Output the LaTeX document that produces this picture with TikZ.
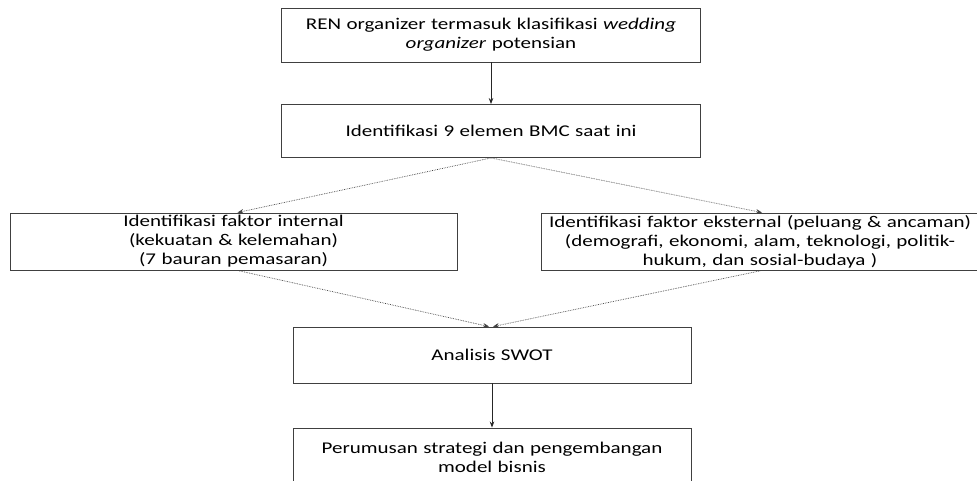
\documentclass[tikz,border=0pt]{standalone}
\usepackage{fontspec}
\setmainfont[FakeStretch=1.28]{Carlito}
\usetikzlibrary{arrows.meta, positioning}
\tikzset{
  box/.style={draw=black!75, line width=0.9pt, align=center, inner sep=0pt,
    font=\fontsize{16.4}{19}\selectfont},
  flow/.style={-{Stealth[length=6pt, width=4.5pt]}, draw=black!85, line width=0.8pt},
  dflow/.style={-{Stealth[length=6pt, width=4.5pt]}, draw=black!75, line width=0.7pt, densely dotted}
}

\begin{document}
\begin{tikzpicture}[x=1pt, y=-1pt]
  \useasboundingbox (0,0) rectangle (977,481);
  \node[box, minimum width=419pt, minimum height=54pt, text width=405pt] (ren) at (491,35)
    {REN organizer termasuk klasifikasi \textit{wedding}\\ \textit{organizer} potensian};
  \node[box, minimum width=419pt, minimum height=53pt, text width=405pt] (bmc) at (491,131)
    {Identifikasi 9 elemen BMC saat ini};
  \node[box, minimum width=447pt, minimum height=57pt, text width=440pt] (internal) at (233.5,241.5)
    {Identifikasi faktor internal\\ (kekuatan \& kelemahan)\\ (7 bauran pemasaran)};
  \node[box, minimum width=437pt, minimum height=57pt, text width=432pt] (eksternal) at (760,241.5)
    {Identifikasi faktor eksternal (peluang \& ancaman)\\ (demografi, ekonomi, alam, teknologi, politik-\\ hukum, dan sosial-budaya )};
  \node[box, minimum width=398pt, minimum height=56pt, text width=390pt] (swot) at (492,355)
    {Analisis SWOT};
  \node[box, minimum width=398pt, minimum height=58pt, text width=390pt] (strategi) at (492,457)
    {Perumusan strategi dan pengembangan\\ model bisnis};

  \draw[flow] (ren) -- (bmc);
  \draw[dflow] (bmc.south) -- ([xshift=4pt]internal.north);
  \draw[dflow] (bmc.south) -- ([xshift=2pt]eksternal.north);
  \draw[dflow] ([xshift=4pt]internal.south) -- ([xshift=-3pt]swot.north);
  \draw[dflow] ([xshift=2pt]eksternal.south) -- ([xshift=1pt]swot.north);
  \draw[flow] (swot) -- (strategi);
\end{tikzpicture}
\end{document}
